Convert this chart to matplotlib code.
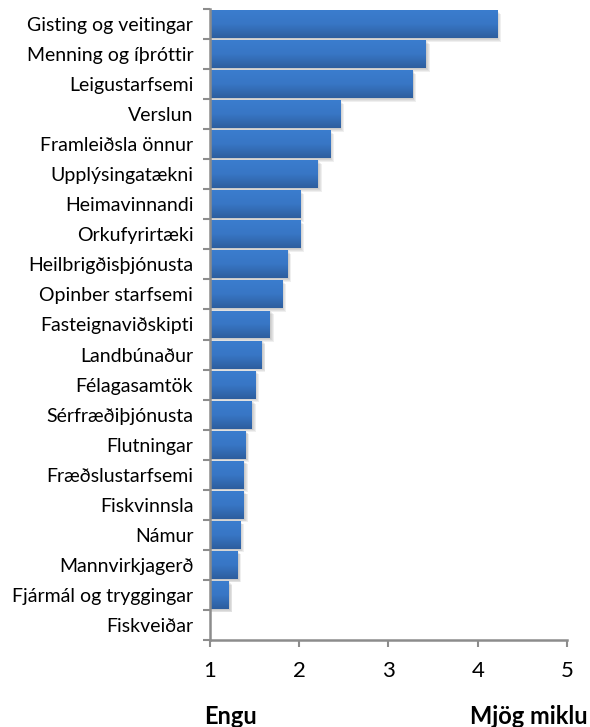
import matplotlib.pyplot as plt
import numpy as np
from matplotlib.colors import LinearSegmentedColormap

categories = [
    "Gisting og veitingar", "Menning og íþróttir", "Leigustarfsemi", "Verslun",
    "Framleiðsla önnur", "Upplýsingatækni", "Heimavinnandi", "Orkufyrirtæki",
    "Heilbrigðisþjónusta", "Opinber starfsemi", "Fasteignaviðskipti", "Landbúnaður",
    "Félagasamtök", "Sérfræðiþjónusta", "Flutningar", "Fræðslustarfsemi",
    "Fiskvinnsla", "Námur", "Mannvirkjagerð", "Fjármál og tryggingar", "Fiskveiðar",
]
values = [4.22, 3.42, 3.27, 2.46, 2.35, 2.21, 2.01, 2.01, 1.87, 1.81, 1.67,
          1.58, 1.51, 1.47, 1.40, 1.38, 1.38, 1.34, 1.31, 1.21, 1.0]
x_ticks = [1, 2, 3, 4, 5]

plt.rcParams['font.family'] = ['Lato', 'DejaVu Sans']

fig = plt.figure(figsize=(5.9, 7.27), dpi=100)
ax = fig.add_axes([0.3559, 0.1197, 0.961 - 0.3559, 0.9876 - 0.1197])

n = len(categories)
ypos = np.arange(n)
widths = [v - 1 for v in values]
bar_h = 0.93

# soft drop shadow, a few faint offset layers
for k in range(1, 5):
    off = 0.03 * k
    ax.barh(ypos + off, [w + off * 0.35 if w > 0 else 0 for w in widths], left=1,
            height=bar_h, color='#808080', alpha=0.12, lw=0, zorder=1)
bars = ax.barh(ypos, widths, left=1, height=bar_h, color='#3569b5', zorder=2)

cmap = LinearSegmentedColormap.from_list('bl', ['#3b7dce', '#3876c5', '#2d5e9e'])
grad = np.linspace(1, 0, 64).reshape(-1, 1)
for b in bars:
    if b.get_width() <= 0:
        continue
    x0, y0 = b.get_x(), b.get_y()
    im = ax.imshow(grad, cmap=cmap, aspect='auto', zorder=3,
                   extent=[x0, x0 + b.get_width(), y0, y0 + b.get_height()])
    im.set_clip_path(b)

ax.set_xlim(1, 5)
ax.set_ylim(n - 0.5, -0.5)
ax.set_xticks(x_ticks)
ax.set_xticklabels([str(t) for t in x_ticks], fontsize=16)
ax.set_yticks(ypos)
ax.set_yticklabels(categories, fontsize=14)
ax.set_yticks(np.arange(n + 1) - 0.5, minor=True)
ax.tick_params(axis='y', which='major', length=0, pad=12)
ax.tick_params(axis='y', which='minor', length=5, width=1.5, color='#8c8c8c')
ax.tick_params(axis='x', length=5, width=1.5, color='#8c8c8c', pad=10)

for s in ['top', 'right']:
    ax.spines[s].set_visible(False)
for s in ['left', 'bottom']:
    ax.spines[s].set_color('#8c8c8c')
    ax.spines[s].set_linewidth(1.8)
ax.spines['left'].set_zorder(5)

fig.text(204 / 590, 1 - 716 / 727, "Engu", fontsize=17, fontweight='bold',
         ha='left', va='center')
fig.text(588 / 590, 1 - 716 / 727, "Mjög miklu", fontsize=17, fontweight='bold',
         ha='right', va='center')

fig.savefig('out.png', dpi=100)
